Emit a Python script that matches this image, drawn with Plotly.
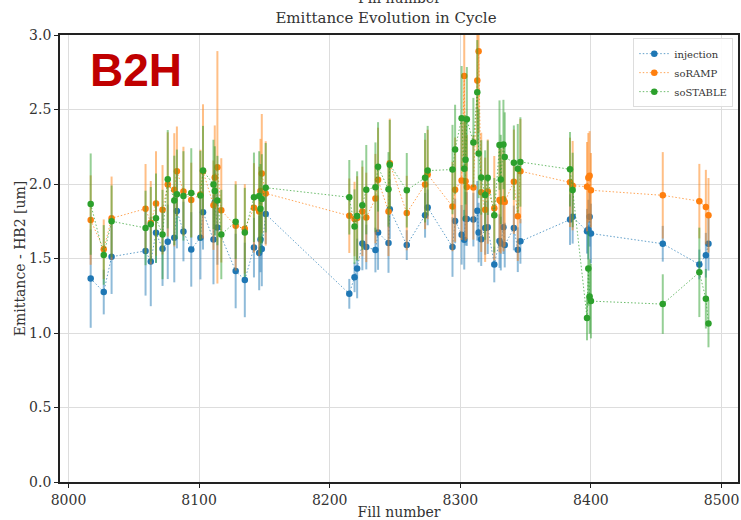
import plotly.graph_objects as go

fills = [8017, 8027, 8033, 8059, 8063, 8067, 8072, 8076, 8081, 8083, 8088, 8094,
         8101, 8103, 8111, 8112, 8114, 8117, 8128, 8135, 8142, 8146, 8147, 8148, 8151,
         8215, 8219, 8221, 8225, 8228, 8235, 8237, 8245, 8246, 8259, 8273, 8275,
         8294, 8296, 8301, 8303, 8304, 8305, 8310, 8313, 8314, 8316, 8319, 8321,
         8326, 8330, 8331, 8333, 8334, 8341, 8344, 8346,
         8384, 8386, 8397, 8398, 8399, 8400, 8455, 8483, 8488, 8490]

injection = [1.365, 1.275, 1.512, 1.551, 1.480, 1.672, 1.566, 1.612, 1.640, 1.818, 1.681, 1.561,
             1.640, 1.810, 1.627, 1.876, 1.708, None, 1.416, 1.356, 1.573, 1.537, 1.628, 1.564, 1.798,
             1.263, 1.374, 1.433, 1.601, 1.577, 1.557, 1.674, 1.604, 1.831, 1.590, 1.790, 1.843,
             1.577, 1.752, 1.659, 1.626, 1.767, 1.765, 1.761, 1.820, 1.674, 1.630, 1.705, 1.710,
             1.460, 1.617, 1.600, 1.710, 1.590, 1.705, 1.559, 1.615,
             1.761, 1.780, 1.683, 1.694, 1.780, 1.668, 1.599, 1.460, 1.522, 1.599]
injection_err = [0.33, 0.15, 0.25, 0.30, 0.30, 0.20, 0.25, 0.25, 0.30, 0.25, 0.20, 0.25,
                 0.28, 0.25, 0.30, 0.22, 0.25, None, 0.25, 0.25, 0.20, 0.25, 0.22, 0.25, 0.20,
                 0.10, 0.10, 0.20, 0.18, 0.15, 0.15, 0.25, 0.20, 0.20, 0.10, 0.15, 0.12,
                 0.20, 0.15, 0.20, 0.20, 0.18, 0.18, 0.18, 0.20, 0.20, 0.18, 0.18, 0.18,
                 0.12, 0.18, 0.18, 0.18, 0.15, 0.15, 0.15, 0.15,
                 0.17, 0.18, 0.15, 0.20, 0.20, 0.20, 0.12, 0.10, 0.15, 0.18]

soRAMP = [1.758, 1.562, 1.770, 1.834, 1.740, 1.869, 1.827, 1.997, 1.961, 2.086, 1.950, 1.893,
          1.930, 2.085, 1.858, 2.043, 2.112, 1.823, 1.719, 1.699, 1.840, 1.816, 1.953, 2.070, 1.937,
          1.787, 1.765, 1.772, 1.816, 1.776, 1.902, 2.028, 1.816, 2.139, 1.805, 1.997, 2.064,
          1.849, 1.962, 2.024, 2.725, 2.019, 1.980, 1.977, 2.694, 2.891, 1.944, 1.827, 1.949,
          1.838, 1.893, 1.883, 1.898, 1.880, 2.015, 1.783, 2.086,
          2.011, 1.989, 1.982, 2.042, 2.055, 1.958, 1.924, 1.885, 1.845, 1.790]
soRAMP_err = [0.30, 0.20, 0.28, 0.30, 0.28, 0.35, 0.30, 0.35, 0.38, 0.30, 0.30, 0.25,
              0.30, 0.45, 0.30, 0.35, 0.78, 0.35, 0.30, 0.30, 0.30, 0.30, 0.35, 0.40, 0.35,
              0.25, 0.25, 0.28, 0.30, 0.30, 0.30, 0.35, 0.30, 0.30, 0.25, 0.30, 0.30,
              0.30, 0.35, 0.40, 0.55, 0.40, 0.35, 0.35, 0.50, 0.55, 0.40, 0.35, 0.35,
              0.35, 0.35, 0.35, 0.35, 0.30, 0.35, 0.30, 0.35,
              0.30, 0.30, 0.30, 0.30, 0.30, 0.25, 0.29, 0.25, 0.25, 0.25]

soSTABLE = [1.865, 1.524, 1.750, 1.705, 1.730, 1.770, 1.661, 2.032, 1.890, 1.931, 1.920, 1.940,
            1.922, 2.090, 1.997, 1.953, 1.889, 1.661, 1.747, 1.674, 1.911, 1.920, 1.834, 1.900, 1.975,
            1.911, 1.714, 1.785, 1.858, 1.962, 1.979, 2.115, 1.964, 2.130, 1.958, 2.042, 2.090,
            2.097, 2.232, 2.442, 2.103, 2.163, 2.435, 2.278, 2.616, 2.205, 2.044, 1.926, 2.042,
            1.790, 2.261, 2.030, 2.265, 2.181, 2.143, 2.103, 2.148,
            2.099, 1.960, 1.101, 1.433, 1.245, 1.214, 1.194, 1.407, 1.230, 1.064]
soSTABLE_err = [0.34, 0.20, 0.24, 0.25, 0.25, 0.30, 0.30, 0.33, 0.30, 0.30, 0.30, 0.30,
                0.30, 0.30, 0.30, 0.30, 0.30, 0.30, 0.25, 0.30, 0.30, 0.30, 0.30, 0.30, 0.30,
                0.25, 0.25, 0.30, 0.30, 0.30, 0.30, 0.30, 0.25, 0.30, 0.25, 0.30, 0.30,
                0.30, 0.30, 0.35, 0.35, 0.30, 0.35, 0.30, 0.35, 0.30, 0.25, 0.30, 0.25,
                0.25, 0.30, 0.30, 0.30, 0.30, 0.25, 0.30, 0.30,
                0.25, 0.25, 0.15, 0.25, 0.25, 0.25, 0.20, 0.30, 0.20, 0.16]

series = [
    ("injection", injection, injection_err, (31, 119, 180)),
    ("soRAMP", soRAMP, soRAMP_err, (255, 127, 14)),
    ("soSTABLE", soSTABLE, soSTABLE_err, (44, 160, 44)),
]

FONT = "DejaVu Serif"
fig = go.Figure()
for name, vals, errs, (r, g, b) in series:
    fig.add_trace(go.Scatter(
        x=fills, y=vals, name=name, mode="lines+markers", connectgaps=True,
        line=dict(color=f"rgba({r},{g},{b},0.7)", width=1, dash="1.5px,2px"),
        marker=dict(color=f"rgb({r},{g},{b})", size=6.5),
        error_y=dict(type="data", array=errs, visible=True, thickness=2, width=0,
                     color=f"rgba({r},{g},{b},0.5)"),
    ))

fig.update_layout(
    width=741, height=520,
    margin=dict(l=60, r=1, t=35, b=32),
    paper_bgcolor="white", plot_bgcolor="white",
    font=dict(family=FONT, size=14, color="#333333"),
    title=dict(text="Emittance Evolution in Cycle", x=386 / 741, xanchor="center",
               y=1 - 18 / 520, yanchor="middle", xref="container", yref="container",
               font=dict(family=FONT, size=15, color="#333333")),
    legend=dict(x=0.993, y=0.993, xanchor="right", yanchor="top",
                bgcolor="rgba(255,255,255,0.9)", bordercolor="#dddddd", borderwidth=1,
                font=dict(family=FONT, size=10, color="#333333"),
                itemwidth=30, tracegroupgap=0),
    showlegend=True,
)
fig.update_xaxes(range=[7993.5, 8512.6], tickmode="array",
                 tickvals=[8000, 8100, 8200, 8300, 8400, 8500],
                 showgrid=True, gridcolor="#dddddd", gridwidth=1,
                 showline=True, linecolor="#222222", linewidth=1.5, mirror=True,
                 ticks="outside", ticklen=4, tickcolor="#222222",
                 title=dict(text="Fill number", standoff=2, font=dict(size=14)),
                 zeroline=False)
fig.update_yaxes(range=[0, 3], tickmode="array", tickvals=[0, 0.5, 1, 1.5, 2, 2.5, 3],
                 tickformat=".1f",
                 showgrid=True, gridcolor="#dddddd", gridwidth=1,
                 showline=True, linecolor="#222222", linewidth=1.8, mirror=True,
                 ticks="outside", ticklen=4, tickcolor="#222222",
                 title=dict(text="Emittance - HB2 [um]", standoff=0, font=dict(size=14)),
                 zeroline=False)

fig.add_annotation(text="Fill number", xref="paper", yref="paper", x=0.5, y=1,
                   yanchor="middle", yshift=37, showarrow=False,
                   font=dict(family=FONT, size=14, color="#333333"))
fig.add_annotation(text="<b>B2H</b>", xref="paper", yref="paper",
                   x=(136 - 60) / 680, y=(488 - 70) / 453, xanchor="center", yanchor="middle",
                   showarrow=False,
                   font=dict(family="Liberation Sans", size=46, color="#c00000"))

fig.write_html("out.html")
